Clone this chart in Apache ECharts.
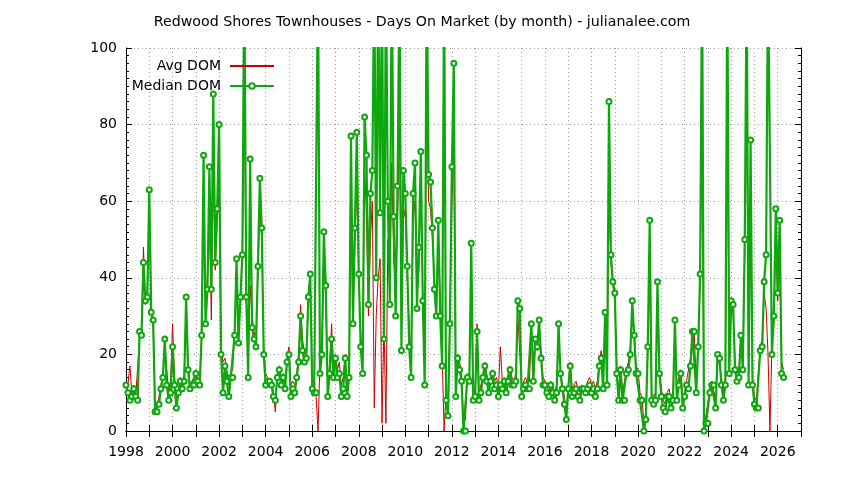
<!DOCTYPE html>
<html><head><meta charset="utf-8">
<script src="https://cdn.jsdelivr.net/npm/echarts@6/dist/echarts.min.js"></script>
<style>html,body{margin:0;padding:0;background:#fff}#chart{width:844px;height:480px}</style>
</head><body><div id="chart"></div>
<script>
const START_YEAR = 1998;
const END_YEAR = 2027;
const seriesNames = ['Avg DOM', 'Median DOM'];

// Monthly values, Jan 1998 onward (values above 100 run off the top of the chart)
const avgDom = [
  11,12,17,10,12,9,9,24,27,48,33,37,
  58,33,27,7,6,9,12,15,22,16,10,12,
  28,14,8,11,14,12,15,33,18,12,13,14,
  16,14,13,24,60,30,40,55,29,70,42,55,
  62,22,18,19,16,12,15,16,26,40,27,33,
  48,90,34,18,38,30,26,24,40,58,50,22,
  15,14,12,13,10,5,15,17,14,15,12,19,
  22,12,13,12,15,20,33,24,20,21,32,38,
  13,12,9,0,18,22,45,34,10,18,28,16,
  20,16,18,12,14,20,10,15,60,30,48,65,
  40,25,18,70,55,30,50,60,6,30,40,45,
  2,28,2,50,36,70,45,38,55,80,25,55,
  58,40,28,18,55,60,35,42,65,36,15,90,
  60,58,50,40,32,50,35,20,0,10,8,30,
  60,75,12,20,18,15,2,3,15,14,40,10,
  11,28,10,12,15,18,15,12,14,16,13,14,
  11,22,13,14,12,15,17,14,13,15,30,30,
  11,13,14,12,13,26,15,22,21,27,20,14,
  13,12,10,13,12,10,12,25,16,12,9,5,
  12,18,11,12,13,11,10,12,12,11,13,14,
  12,13,11,13,18,21,13,30,14,60,44,38,
  34,17,10,17,10,10,16,18,22,30,27,17,
  16,10,9,2,5,20,45,10,9,10,35,16,
  11,8,7,10,11,8,10,27,10,14,16,8,
  10,13,13,19,24,25,12,24,38,80,1,4,
  4,11,13,13,8,20,20,14,10,14,90,18,
  32,31,18,15,16,24,18,45,90,15,60,14,
  9,8,8,22,24,36,32,20,0,22,28,50,
  34,45,18,16
];
const medianDom = [
  12,10,8,9,11,9,8,26,25,44,34,35,
  63,31,29,5,5,7,11,14,24,12,8,10,
  22,12,6,10,13,11,13,35,16,11,12,12,
  15,13,12,25,72,28,37,69,37,88,44,58,
  80,20,10,17,13,9,14,14,25,45,23,35,
  46,120,35,14,71,27,24,22,43,66,53,20,
  12,13,13,12,9,8,14,16,12,14,11,18,
  20,9,11,10,14,18,30,21,18,19,35,41,
  11,10,10,120,15,20,52,38,9,15,24,14,
  19,14,15,9,11,19,9,14,77,28,53,78,
  41,22,15,82,72,33,62,68,120,40,120,57,
  120,24,120,60,33,120,56,30,64,120,21,68,
  62,43,22,14,62,70,32,48,73,34,12,120,
  67,65,53,37,30,55,30,17,120,8,4,28,
  69,96,9,19,16,13,0,0,14,13,49,8,
  9,26,8,10,14,17,13,10,13,15,11,12,
  9,12,11,13,10,13,16,12,12,13,34,32,
  9,11,12,11,11,28,13,24,22,29,19,12,
  12,10,9,12,10,8,10,28,15,11,7,3,
  11,17,9,10,11,9,8,11,11,10,11,12,
  10,11,9,11,17,19,11,31,12,86,46,39,
  36,15,8,16,8,8,15,16,20,34,25,15,
  15,8,8,0,3,22,55,8,7,8,39,15,
  9,6,5,9,9,6,8,29,8,12,15,6,
  9,12,11,17,26,26,10,22,41,120,0,2,
  2,10,12,12,6,20,19,12,8,12,120,15,
  34,33,16,13,14,25,16,50,120,12,76,12,
  7,6,6,21,22,39,46,120,120,20,30,58,
  36,55,15,14
];

const monthX = avgDom.map((_, i) => START_YEAR + i / 12);
const avgData = avgDom.map((v, i) => [monthX[i], v]);
const medData = medianDom.map((v, i) => [monthX[i], v]);

const FONT = 'DejaVu Sans';
const RED = '#cc0000';
const GREEN = '#0ea80e';
const gridLine = { show: true, lineStyle: { color: '#a0a0a0', width: 1, type: [1, 3] } };
const black = { show: true, lineStyle: { color: '#000', width: 1 } };

const chart = echarts.init(document.getElementById('chart'), null, { renderer: 'canvas' });
chart.setOption({
  animation: false,
  backgroundColor: '#fff',
  textStyle: { fontFamily: FONT },
  title: {
    text: 'Redwood Shores Townhouses - Days On Market (by month) - julianalee.com',
    left: 'center', top: 10,
    textStyle: { fontFamily: FONT, fontSize: 14.2, fontWeight: 'normal', color: '#000' }
  },
  legend: {
    data: [
      { name: seriesNames[0], itemStyle: { opacity: 0 } },
      { name: seriesNames[1] }
    ],
    orient: 'vertical', align: 'right',
    right: 569, top: 59,
    itemWidth: 44, itemHeight: 7, itemGap: 6, padding: 0,
    textStyle: { fontFamily: FONT, fontSize: 14, color: '#000', padding: [0, 4, 0, 0] }
  },
  grid: { left: 126, right: 43, top: 48, bottom: 49 },
  xAxis: [
    {
      type: 'value', min: START_YEAR, max: END_YEAR, interval: 1, position: 'bottom',
      axisLine: black,
      axisTick: { show: true, inside: true, length: 6, lineStyle: { color: '#000' } },
      axisLabel: { color: '#000', fontSize: 14, fontFamily: FONT, margin: 14,
        formatter: v => (v % 2 === 0 ? String(v) : '') },
      splitLine: gridLine
    },
    {
      type: 'value', min: START_YEAR, max: END_YEAR, interval: 1, position: 'top',
      axisLine: black,
      axisTick: { show: true, inside: true, length: 6, lineStyle: { color: '#000' } },
      axisLabel: { show: false }, splitLine: { show: false }
    }
  ],
  yAxis: [
    {
      type: 'value', min: 0, max: 100, interval: 20, position: 'left',
      axisLine: black,
      axisTick: { show: true, inside: true, length: 6, lineStyle: { color: '#000' } },
      minorTick: { show: true, splitNumber: 10, length: 3, lineStyle: { color: '#000' } },
      axisLabel: { color: '#000', fontSize: 14, fontFamily: FONT, margin: 9 },
      splitLine: gridLine
    },
    {
      type: 'value', min: 0, max: 100, interval: 20, position: 'right',
      axisLine: black,
      axisTick: { show: true, inside: true, length: 6, lineStyle: { color: '#000' } },
      minorTick: { show: true, splitNumber: 10, length: 3, lineStyle: { color: '#000' } },
      axisLabel: { show: false }, splitLine: { show: false }
    }
  ],
  series: [
    {
      name: seriesNames[0], type: 'line', data: avgData, xAxisIndex: 0, yAxisIndex: 0,
      symbol: 'none', clip: true, z: 2,
      lineStyle: { color: RED, width: 1 },
      itemStyle: { color: RED }
    },
    {
      name: seriesNames[1], type: 'line', data: medData, xAxisIndex: 0, yAxisIndex: 0,
      symbol: 'emptyCircle', symbolSize: 5, showAllSymbol: true, clip: true, z: 3,
      lineStyle: { color: GREEN, width: 2.2 },
      itemStyle: { color: GREEN, borderWidth: 1.5 }
    }
  ]
});
</script></body></html>
